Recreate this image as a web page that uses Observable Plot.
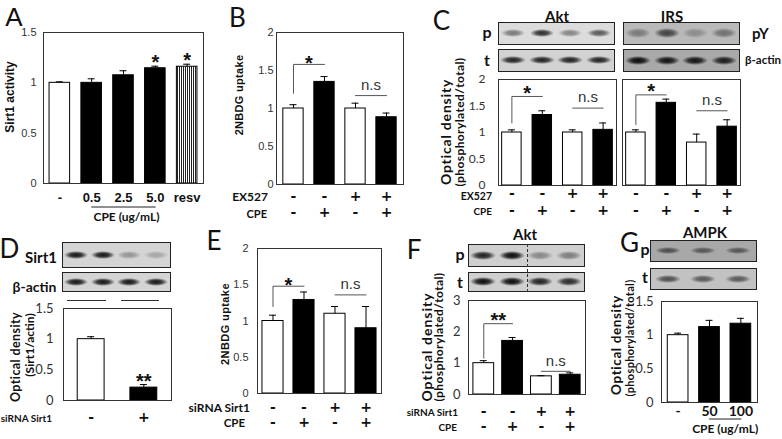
<!DOCTYPE html>
<html><head><meta charset="utf-8">
<script src="https://cdn.jsdelivr.net/npm/d3@7"></script>
<script src="https://cdn.jsdelivr.net/npm/@observablehq/plot@0.6"></script>
<style>
html,body{margin:0;padding:0;background:#fff;}
#root{position:relative;width:782px;height:439px;overflow:hidden;background:#fff;}
.lbl{position:absolute;white-space:nowrap;line-height:1;color:#111;}
.blot{position:absolute;box-sizing:border-box;border:1.5px solid #222;overflow:hidden;}
.band{position:absolute;}
.rule{position:absolute;background:#333;}
</style></head><body><div id="root"></div>
<script>
// ---------------- DATA ----------------
// A: Sirt1 activity
const aLabels = ["-", "0.5", "2.5", "5.0", "resv"];
const aKinds = ["open", "filled", "filled", "filled", "striped"];
const aValues = [1.0, 1.0, 1.075, 1.145, 1.16];
const aErrors = [0.01, 0.04, 0.045, 0.02, 0.025];
const aStars = [{i: 3, label: "*"}, {i: 4, label: "*"}];
const aTicks = [0, 0.5, 1, 1.5];

// B: 2NBDG uptake with EX527
const bEX527 = ["-", "-", "+", "+"];
const bCPE = ["-", "+", "-", "+"];
const bKinds = ["open", "filled", "open", "filled"];
const bValues = [1.0, 1.35, 1.0, 0.885];
const bErrors = [0.05, 0.07, 0.07, 0.055];
const bSig = [{a: 0, b: 1, low: 1.2, high: 1.58, label: "*"}];
const bNs = [{a: 2, b: 3, level: 1.17}];
const bTicks = [0, 0.5, 1, 1.5, 2];

// C: Akt and IRS
const cEX527 = ["-", "-", "+", "+"];
const cCPE = ["-", "+", "-", "+"];
const cKinds = ["open", "filled", "open", "filled"];
const cAktValues = [1.0, 1.33, 1.0, 1.05];
const cAktErrors = [0.05, 0.08, 0.05, 0.13];
const cAktSig = [{a: 0, b: 1, low: 1.18, high: 1.68, label: "*"}];
const cAktNs = [{a: 2, b: 3, level: 1.46}];
const cIrsValues = [1.0, 1.56, 0.81, 1.11];
const cIrsErrors = [0.05, 0.07, 0.16, 0.13];
const cIrsSig = [{a: 0, b: 1, low: 1.15, high: 1.71, label: "*"}];
const cIrsNs = [{a: 2, b: 3, level: 1.41}];
const cTicks = [0, 0.5, 1, 1.5, 2];

// D: Sirt1 knockdown
const dSiRNA = ["-", "+"];
const dKinds = ["open", "filled"];
const dValues = [1.0, 0.21];
const dErrors = [0.04, 0.05];
const dStars = [{i: 1, label: "**"}];
const dTicks = [0, 0.5, 1, 1.5];

// E: 2NBDG uptake with siRNA
const eSiRNA = ["-", "-", "+", "+"];
const eCPE = ["-", "+", "-", "+"];
const eKinds = ["open", "filled", "open", "filled"];
const eValues = [1.0, 1.29, 1.10, 0.90];
const eErrors = [0.08, 0.11, 0.10, 0.30];
const eSig = [{a: 0, b: 1, low: 1.2, high: 1.48, label: "*"}];
const eNs = [{a: 2, b: 3, level: 1.36}];
const eTicks = [0, 0.5, 1, 1.5, 2];

// F: Akt with siRNA
const fSiRNA = ["-", "-", "+", "+"];
const fCPE = ["-", "+", "-", "+"];
const fKinds = ["open", "filled", "open", "filled"];
const fValues = [1.0, 1.71, 0.58, 0.63];
const fErrors = [0.08, 0.11, 0.02, 0.06];
const fSig = [{a: 0, b: 1, low: 1.16, high: 2.26, label: "**"}];
const fNs = [{a: 2, b: 3, level: 0.74}];
const fTicks = [0, 1, 2, 3];

// G: AMPK
const gLabels = ["-", "50", "100"];
const gKinds = ["open", "filled", "filled"];
const gValues = [1.0, 1.12, 1.17];
const gErrors = [0.03, 0.10, 0.08];
const gTicks = [0, 0.5, 1, 1.5];

// Blot band intensities
const cAktP = [0.45, 0.8, 0.4, 0.6], cAktT = [0.85, 0.85, 0.85, 0.85];
const cIrsP = [0.35, 0.65, 0.25, 0.4], cIrsT = [0.95, 0.9, 0.9, 0.85];
const dSirtBlot = [0.9, 0.9, 0.3, 0.22], dActinBlot = [0.9, 0.9, 0.9, 0.9];
const fPBlot = [0.85, 0.95, 0.35, 0.4], fTBlot = [0.95, 0.95, 0.85, 0.8];
const gPBlot = [0.55, 0.5, 0.5], gTBlot = [0.6, 0.55, 0.55];

// ---------------- HELPERS ----------------
const root = document.getElementById("root");
const SIGN_FONT = "DejaVu Sans";
function place(el, x, y) { el.style.position = "absolute"; el.style.left = x + "px"; el.style.top = y + "px"; root.appendChild(el); }
function label(text, x, y, o = {}) {
  const d = document.createElement("div");
  d.className = "lbl"; d.textContent = text;
  d.style.fontSize = (o.size || 12) + "px";
  d.style.fontWeight = o.weight || "bold";
  d.style.fontFamily = o.family || "Lato";
  d.style.color = o.color || "#111";
  if (o.ls) d.style.letterSpacing = o.ls + "px";
  const tx = o.anchor === "end" ? "-100%" : o.anchor === "start" ? "0" : "-50%";
  d.style.transform = `translate(${tx},-50%)` + (o.rotate ? ` rotate(${o.rotate}deg)` : "");
  place(d, x, y);
}
function hrule(x1, x2, y) { const d = document.createElement("div"); d.className = "rule"; d.style.width = (x2 - x1) + "px"; d.style.height = "1px"; place(d, x1, y); }
function blot(x, y, w, h, intens, o = {}) {
  const d = document.createElement("div"); d.className = "blot";
  d.style.width = w + "px"; d.style.height = h + "px";
  d.style.background = o.bg || "#d0d0d0";
  const bw = o.bw || 22, bh = o.bh || 7;
  intens.forEach((a, i) => {
    const b = document.createElement("div"); b.className = "band";
    const cx = (w - 3) * (i + 0.5) / intens.length;
    b.style.left = (cx - bw / 2) + "px"; b.style.top = ((h - 3) / 2 - bh / 2) + "px";
    b.style.width = bw + "px"; b.style.height = bh + "px";
    b.style.background = `radial-gradient(ellipse closest-side, rgba(0,0,0,${a}) 0%, rgba(0,0,0,${a * 0.8}) 50%, rgba(0,0,0,0) 100%)`;
    d.appendChild(b);
  });
  place(d, x, y);
}

function barPanel(o) {
  const n = o.values.length, ids = d3.range(n);
  const data = ids.map(i => ({i, v: o.values[i], e: o.errors[i], kind: o.kinds[i]}));
  const step = o.fw / (n - o.pi + 2 * o.po), bw = step * (1 - o.pi), cap = Math.max(0, (bw - 7) / 2);
  const M = {l: 70, t: 40, r: 20, b: 50};
  const base = o.domain[0];
  const marks = [];
  for (const [k, fill] of [["open", "#fff"], ["filled", "#000"], ["striped", "url(#stripes)"]]) {
    const sub = data.filter(d => d.kind === k);
    if (sub.length) marks.push(Plot.barY(sub, {x: "i", y: "v", fill, stroke: "#000", strokeWidth: 1}));
  }
  marks.push(Plot.ruleX(data, {x: "i", y1: "v", y2: d => d.v + d.e, stroke: "#000"}));
  marks.push(Plot.tickY(data, {x: "i", y: d => d.v + d.e, insetLeft: cap, insetRight: cap, stroke: "#000"}));
  marks.push(Plot.frame({stroke: "#333"}));
  if (o.ticks) marks.push(Plot.axisY({ticks: o.ticks, tickFormat: d => String(d), tickSize: 0, tickPadding: o.tickPad, label: null,
    fontSize: o.tickFont[1], fontFamily: o.tickFont[0], fill: "#333"}));
  for (const row of o.rows) marks.push(Plot.axisX({tickFormat: i => row.labels[i], tickSize: 0, tickPadding: row.pad,
    label: null, fontSize: row.size, fontWeight: "bold", fontFamily: row.family || SIGN_FONT, fill: "#111"}));
  if (o.stars) marks.push(Plot.text(o.stars, {x: "i", y: d => o.values[d.i] + o.errors[d.i], text: "label",
    dy: o.starDy, lineAnchor: "middle", fontSize: 20, fontWeight: "bold", fontFamily: "Liberation Sans", fill: "#111"}));
  for (const s of (o.sig || [])) {
    marks.push(Plot.line([{x: s.a, y: s.low}, {x: s.a, y: s.high}, {x: s.b, y: s.high}], {x: "x", y: "y", stroke: "#555", strokeWidth: 1}));
    marks.push(Plot.text([s], {x: "a", y: "high", text: "label", dx: step * (s.b - s.a) / 2, dy: o.sigDy, lineAnchor: "middle",
      fontSize: 20, fontWeight: "bold", fontFamily: "Liberation Sans", fill: "#111"}));
  }
  for (const s of (o.ns || [])) {
    marks.push(Plot.line([{x: s.a, y: s.level}, {x: s.b, y: s.level}], {x: "x", y: "y", stroke: "#555", strokeWidth: 1}));
    marks.push(Plot.text([s], {x: "a", y: "level", text: () => "n.s", dx: step * (s.b - s.a) / 2, dy: -10.5, lineAnchor: "middle",
      fontSize: 15, fontFamily: "Liberation Sans", fill: "#333"}));
  }
  if (o.under) {
    const u = o.under;
    marks.push(Plot.line([{x: u.a}, {x: u.b}], {x: "x", y: () => base, dy: u.dy, stroke: "#222", strokeWidth: 1}));
    marks.push(Plot.text([u], {x: "a", y: () => base, text: "label", dx: step * (u.b - u.a) / 2 + (u.dx || 0), dy: u.labelDy,
      lineAnchor: "middle", fontSize: u.size, fontWeight: "bold", fontFamily: "Lato", fill: "#111"}));
  }
  const chart = Plot.plot({
    width: M.l + o.fw + M.r, height: M.t + o.fh + M.b,
    marginLeft: M.l, marginRight: M.r, marginTop: M.t, marginBottom: M.b,
    x: {type: "band", domain: ids, paddingInner: o.pi, paddingOuter: o.po, round: false},
    y: o.ticks ? {domain: o.domain} : {domain: o.domain, axis: null},
    style: {background: "transparent", overflow: "visible", color: "#222"},
    marks
  });
  if (o.pattern) {
    const defs = document.createElementNS("http://www.w3.org/2000/svg", "defs");
    defs.innerHTML = '<pattern id="stripes" width="2" height="4" patternUnits="userSpaceOnUse"><rect width="2" height="4" fill="#fff"/><rect width="1" height="4" fill="#222"/></pattern>';
    chart.insertBefore(defs, chart.firstChild);
  }
  const wrap = document.createElement("div");
  wrap.style.width = (M.l + o.fw + M.r) + "px";
  wrap.appendChild(chart);
  place(wrap, o.fx - M.l, o.fy - M.t);
}

// ---------------- PANEL A ----------------
barPanel({fx: 43, fy: 32, fw: 160, fh: 151, domain: [0, 1.5], ticks: aTicks, tickPad: 7, tickFont: ["Liberation Sans", 11],
  pi: 0.354, po: 0.19, values: aValues, errors: aErrors, kinds: aKinds, pattern: true,
  rows: [{labels: aLabels, pad: 9.5, size: 13, family: "Liberation Sans"}],
  stars: aStars, starDy: -4,
  under: {a: 1, b: 3, dy: 23.5, label: "CPE (ug/mL)", labelDy: 34, dx: 3, size: 12}});
label("A", 14, 17, {size: 26, weight: "normal", family: "Liberation Sans"});
label("Sirt1 activity", 10, 97, {size: 12, family: "Liberation Sans", rotate: -90});

// ---------------- PANEL B ----------------
barPanel({fx: 276, fy: 32, fw: 127, fh: 152, domain: [0, 2], ticks: bTicks, tickPad: 3, tickFont: ["Liberation Sans", 11],
  pi: 0.345, po: 0.22, values: bValues, errors: bErrors, kinds: bKinds,
  rows: [{labels: bEX527, pad: 7, size: 14}, {labels: bCPE, pad: 23, size: 14}],
  sig: bSig, sigDy: -1, ns: bNs});
label("B", 237.5, 17, {size: 26, weight: "normal"});
label("2NBDG uptake", 238.5, 95, {size: 11, family: "Liberation Sans", rotate: -90, ls: 0.3});
label("EX527", 268, 197, {size: 12, anchor: "end"});
label("CPE", 267, 213, {size: 11, anchor: "end"});

// ---------------- PANEL C ----------------
barPanel({fx: 498, fy: 79, fw: 118, fh: 106, domain: [0, 2], ticks: cTicks, tickPad: 13, tickFont: ["Lato", 12],
  pi: 0.36, po: 0.12, values: cAktValues, errors: cAktErrors, kinds: cKinds,
  rows: [{labels: cEX527, pad: 3, size: 14}, {labels: cCPE, pad: 19.8, size: 14}],
  sig: cAktSig, sigDy: -3, ns: cAktNs});
barPanel({fx: 622, fy: 79, fw: 118, fh: 106, domain: [0, 2], ticks: null,
  pi: 0.36, po: 0.12, values: cIrsValues, errors: cIrsErrors, kinds: cKinds,
  rows: [{labels: cEX527, pad: 3, size: 14}, {labels: cCPE, pad: 19.8, size: 14}],
  sig: cIrsSig, sigDy: -3, ns: cIrsNs});
label("C", 441.5, 20, {size: 26, weight: "normal"});
label("Optical density", 445.5, 131.5, {size: 14, rotate: -90, ls: 0.8});
label("(phosphorylated/total)", 459.5, 121.5, {size: 12, rotate: -90, ls: 0.4});
label("EX527", 492, 196, {size: 10.5, anchor: "end"});
label("CPE", 492, 211, {size: 10, anchor: "end"});
blot(498, 22, 117, 23, cAktP, {bg: "#dcdcdc", bw: 24, bh: 8});
blot(498, 49, 117, 23, cAktT, {bg: "#d2d2d2", bw: 26, bh: 8});
blot(623, 22, 117, 23, cIrsP, {bg: "#b9b9b9", bw: 26, bh: 10});
blot(623, 49, 117, 23, cIrsT, {bg: "#a9a9a9", bw: 26, bh: 9});
label("Akt", 557, 16, {size: 15});
label("IRS", 672, 16, {size: 15});
label("p", 487, 32, {size: 16});
label("t", 487, 60, {size: 16});
label("pY", 752, 33, {size: 15, anchor: "start"});
label("β-actin", 745, 60, {size: 11.5, anchor: "start"});

// ---------------- PANEL D ----------------
barPanel({fx: 63, fy: 308, fw: 108, fh: 92, domain: [0, 1.5], ticks: dTicks, tickPad: 10, tickFont: ["Lato", 13],
  pi: 0.49, po: 0.27, values: dValues, errors: dErrors, kinds: dKinds,
  rows: [{labels: dSiRNA, pad: 12, size: 14}],
  stars: dStars, starDy: -3});
label("D", 9.5, 248, {size: 26, weight: "normal"});
label("Optical density", 16, 357, {size: 12.5, rotate: -90, ls: 0.4});
label("(Sirt1/actin)", 30, 345, {size: 12, rotate: -90});
label("siRNA Sirt1", 52, 418, {size: 10, anchor: "end"});
blot(62, 242, 109, 26, dSirtBlot, {bg: "#d4d4d4", bw: 24, bh: 8});
blot(62, 272, 109, 20, dActinBlot, {bg: "#d4d4d4", bw: 24, bh: 8});
label("Sirt1", 41, 257, {size: 15});
label("β-actin", 34.5, 287, {size: 14});
hrule(67, 106, 300);
hrule(121, 159, 300);

// ---------------- PANEL E ----------------
barPanel({fx: 257, fy: 248, fw: 124, fh: 145, domain: [0, 2], ticks: eTicks, tickPad: 9, tickFont: ["Liberation Sans", 11],
  pi: 0.32, po: 0.16, values: eValues, errors: eErrors, kinds: eKinds,
  rows: [{labels: eSiRNA, pad: 9, size: 14}, {labels: eCPE, pad: 24, size: 14}],
  sig: eSig, sigDy: -1, ns: eNs});
label("E", 214, 240, {size: 26, weight: "normal"});
label("2NBDG uptake", 225, 324, {size: 11, family: "Liberation Sans", rotate: -90, ls: 0.4});
label("siRNA Sirt1", 250, 408, {size: 12, anchor: "end"});
label("CPE", 245, 423, {size: 11.5, anchor: "end"});

// ---------------- PANEL F ----------------
barPanel({fx: 468, fy: 300, fw: 117, fh: 94, domain: [0, 3], ticks: fTicks, tickPad: 8, tickFont: ["Lato", 13],
  pi: 0.28, po: 0.17, values: fValues, errors: fErrors, kinds: fKinds,
  rows: [{labels: fSiRNA, pad: 12, size: 14}, {labels: fCPE, pad: 27, size: 14}],
  sig: fSig, sigDy: -3, ns: fNs});
label("F", 414, 249, {size: 26, weight: "normal"});
label("Optical density", 427, 347, {size: 14, rotate: -90, ls: 1});
label("(phosphorylated/total)", 439, 337, {size: 12, rotate: -90, ls: 0.4});
label("siRNA Sirt1", 458, 412, {size: 10, anchor: "end"});
label("CPE", 457, 427, {size: 10, anchor: "end"});
blot(468, 244, 117, 23, fPBlot, {bg: "#cfcfcf", bw: 26, bh: 9});
blot(468, 272, 117, 20, fTBlot, {bg: "#cfcfcf", bw: 26, bh: 9});
(() => { const d = document.createElement("div"); d.style.width = "0"; d.style.height = "48px"; d.style.borderLeft = "1px dashed #333"; place(d, 527, 244); })();
label("Akt", 525, 234, {size: 15});
label("p", 460, 254, {size: 16});
label("t", 460, 282, {size: 16});

// ---------------- PANEL G ----------------
barPanel({fx: 661, fy: 301, fw: 96, fh: 101, domain: [0, 1.5], ticks: gTicks, tickPad: 8, tickFont: ["Lato", 13],
  pi: 0.34, po: 0.2, values: gValues, errors: gErrors, kinds: gKinds,
  rows: [{labels: gLabels, pad: 3.5, size: 14, family: "Lato"}],
  under: {a: 1, b: 2, dy: 16.5, label: "CPE (ug/mL)", labelDy: 26.5, dx: 0, size: 12}});
label("G", 629.5, 242, {size: 26, weight: "normal"});
label("Optical density", 616.5, 345, {size: 13.5, rotate: -90, ls: 0.6});
label("(phosphorylated/total)", 629, 337.5, {size: 11, rotate: -90, ls: 0.3});
blot(650, 240, 107, 22, gPBlot, {bg: "#a8a8a8", bw: 26, bh: 7});
blot(650, 268, 107, 22, gTBlot, {bg: "#c2c2c2", bw: 26, bh: 8});
label("AMPK", 705, 232, {size: 15});
label("p", 645, 249, {size: 16});
label("t", 645, 277, {size: 16});
</script></body></html>
